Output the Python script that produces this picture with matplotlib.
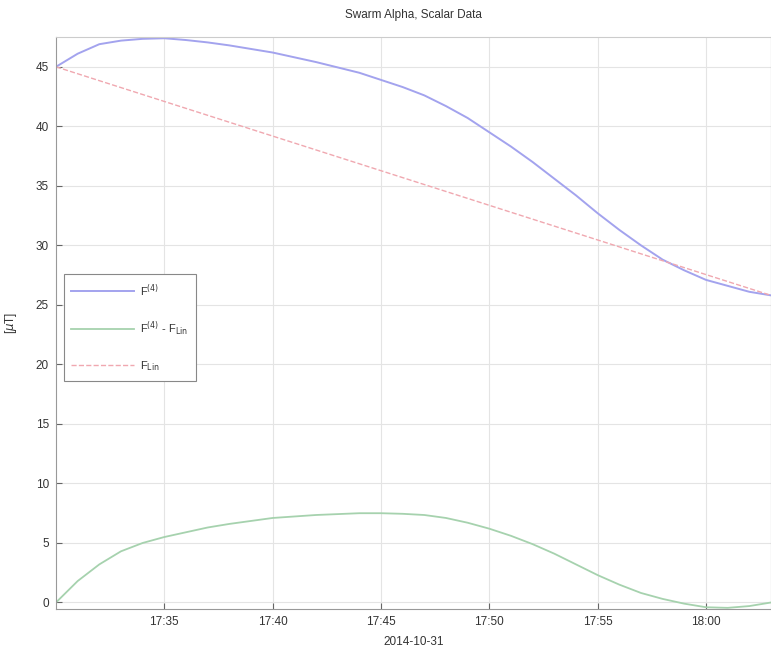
import numpy as np
import datetime as dt
import matplotlib
matplotlib.use('Agg')
from matplotlib import pyplot as plt
import matplotlib.dates as mdates

plt.rcParams['font.family'] = ['Liberation Sans', 'DejaVu Sans']

# minutes after 17:30 on 2014-10-31
minutos = [0, 1, 2, 3, 4, 5, 6, 7, 8, 10, 12, 14, 15, 16, 17, 18, 19, 20,
           21, 22, 23, 24, 25, 26, 27, 28, 29, 30, 31, 32, 33]
F4 = [45.0, 46.1, 46.9, 47.2, 47.35, 47.4, 47.25, 47.05, 46.8, 46.2, 45.4,
      44.5, 43.9, 43.3, 42.6, 41.7, 40.7, 39.5, 38.3, 37.0, 35.6, 34.2,
      32.7, 31.3, 30.0, 28.8, 27.9, 27.1, 26.6, 26.1, 25.8]
F4_menos_Flin = [0.0, 1.8, 3.2, 4.3, 5.0, 5.5, 5.9, 6.3, 6.6, 7.1, 7.35,
                 7.5, 7.5, 7.45, 7.35, 7.1, 6.7, 6.2, 5.6, 4.9, 4.1, 3.2,
                 2.3, 1.5, 0.8, 0.3, -0.1, -0.4, -0.45, -0.3, 0.0]
minutos_lin = [0, 33]
Flin = [45.0, 25.8]

t0 = dt.datetime(2014, 10, 31, 17, 30)
t = [t0 + dt.timedelta(minutes=m) for m in minutos]
t_lin = [t0 + dt.timedelta(minutes=m) for m in minutos_lin]

fig = plt.figure(figsize=(7.71, 6.57), dpi=100)
ax = fig.add_axes([0.0726, 0.073, 0.9274, 0.8706])

ax.plot(t, F4, color='#a3a3ee', lw=1.4, label=r'F$^{(4)}$')
ax.plot(t, F4_menos_Flin, color='#a6d2ae', lw=1.3, label=r'F$^{(4)}$ - F$_{\rm Lin}$')
ax.plot(t_lin, Flin, '--', color='#f0a8b0', lw=1.0, label=r'F$_{\rm Lin}$')

ax.set_xlim(t0, t0 + dt.timedelta(minutes=33))
ax.set_ylim(-0.55, 47.5)
ax.set_yticks(np.arange(0, 50, 5))
ax.xaxis.set_major_formatter(mdates.DateFormatter('%H:%M'))
ax.xaxis.set_ticks([t0 + dt.timedelta(minutes=m) for m in range(5, 33, 5)])

ax.grid(True, color='#e4e4e4', lw=0.8)
ax.set_axisbelow(True)
ax.tick_params(direction='in', length=4, labelsize=8.5, colors='#666666',
               labelcolor='#333333', pad=5)
for s in ax.spines.values():
    s.set_color('#999999')
ax.spines['top'].set_color('#cccccc')

ax.set_title('Swarm Alpha, Scalar Data', fontsize=8.5, color='#333333', pad=14)
ax.set_xlabel('2014-10-31', fontsize=8.5, color='#333333', labelpad=6)
ax.set_ylabel(r'[$\mu$T]', fontsize=8.5, color='#333333', labelpad=12)

leg = ax.legend(loc='upper left', bbox_to_anchor=(0.003, 0.595), fontsize=8,
                handlelength=5.6, handletextpad=0.6, labelspacing=1.9,
                borderpad=0.7, fancybox=False, framealpha=1)
leg.get_frame().set_edgecolor('#888888')
leg.get_frame().set_linewidth(0.8)
for txt in leg.get_texts():
    txt.set_color('#333333')

plt.savefig('out.png', dpi=100)
